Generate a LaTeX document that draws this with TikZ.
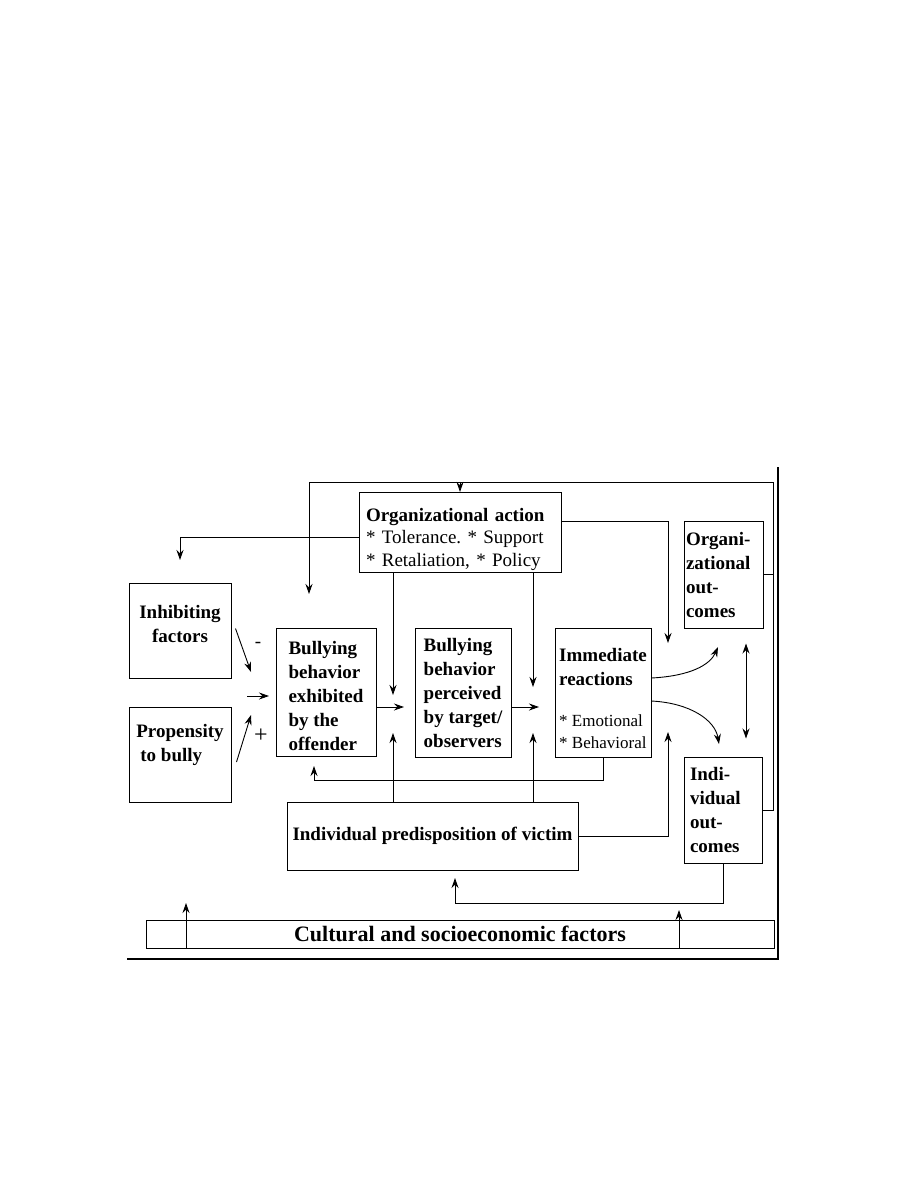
\documentclass[tikz,border=0pt]{standalone}
\usepackage{fontspec}
\setmainfont{Liberation Serif}
\usetikzlibrary{arrows.meta}
\frenchspacing

\begin{document}
\begin{tikzpicture}[x=1pt, y=-1pt, >={Stealth[length=10pt,width=7pt]},
    box/.style={draw, line width=1pt, inner sep=2pt, font=\fontsize{19}{24}\selectfont\bfseries},
    link/.style={line width=0.9pt}]
  \useasboundingbox (0,0) rectangle (918,1188);
  % boxes
  \node[box, minimum width=202pt, minimum height=79pt, text width=188pt, inner xsep=7pt, align=left, font=\fontsize{19}{22.5}\selectfont] (org) at (460,532.5) {\rule{0pt}{27pt}\textbf{Organizational action}\\{*} Tolerance. {*} Support\\{*} Retaliation, {*} Policy};
  \node[box, minimum width=79pt, minimum height=107pt, text width=75pt, align=left] (orgout) at (723.5,574.5) {Organi-\\zational\\out-\\comes};
  \node[box, minimum width=102pt, minimum height=95pt, align=center] (inhib) at (180,630.5) {Inhibiting\\factors\rule[-14pt]{0pt}{14pt}};
  \node[box, minimum width=102pt, minimum height=95pt, align=left] (prop) at (180,754.5) {Propensity\\\hspace*{4pt}to bully\rule[-24pt]{0pt}{24pt}};
  \node[box, minimum width=100pt, minimum height=128pt, align=left] (exhib) at (326,692) {\rule{0pt}{21pt}Bullying\\behavior\\exhibited\\by the\\offender};
  \node[box, minimum width=96pt, minimum height=129pt, align=left] (perc) at (463,692.5) {Bullying\\behavior\\perceived\\by target/\\observers};
  \node[box, minimum width=96pt, minimum height=129pt, align=left, inner xsep=1pt] (immed) at (603,692.5) {\rule{0pt}{26pt}Immediate\\reactions\\[17pt]{\mdseries\fontsize{17}{22}\selectfont * Emotional}\\[-2pt]{\mdseries\fontsize{17}{22}\selectfont * Behavioral}};
  \node[box, minimum width=291pt, minimum height=68pt] (pred) at (432.5,836) {Individual predisposition of victim};
  \node[box, minimum width=78pt, minimum height=106pt, text width=66pt, inner xsep=6pt, align=left] (indout) at (723,810) {Indi-\\vidual\\out-\\comes};
  \node[box, minimum width=628pt, minimum height=28pt, font=\fontsize{22}{26}\selectfont\bfseries] (cult) at (460,934) {Cultural and socioeconomic factors};
  % signs
  \node[font=\fontsize{19}{24}\selectfont] (minus) at (258,645) {-};
  \node[font=\fontsize{24}{28}\selectfont] (plus) at (261,736) {+};
  % free ends
  \coordinate (loop) at (773,482);
  \coordinate (exhibtop) at (309,594);
  \coordinate (inhibtop) at (180,560);
  \coordinate (immedtop) at (668,643);
  \coordinate (immedbot) at (668,732);
  \coordinate (j1) at (393,707);
  \coordinate (j2) at (533,707);
  \coordinate (fb) at (314,766);
  \coordinate (predbot) at (455,878);
  \coordinate (c1) at (186,903);
  \coordinate (c2) at (679,910);
  \coordinate (inhibtip) at (251,672);
  \coordinate (proptip) at (251,715);
  \coordinate (mid) at (247,696);
  \coordinate (orgin) at (718,647);
  \coordinate (indin) at (719,744);
  % frame
  \draw[line width=1.2pt] (127,959) -- (778,959) -- (778,467);
  % connectors
  \draw[link, ->] (indout.east) -| (loop) -| (exhibtop);
  \draw[link, ->] (loop -| org.north) -- (org.north);
  \draw[link] (orgout.east) -- (orgout.east -| loop);
  \draw[link, ->] ([yshift=-5pt]org.west) -| (inhibtop);
  \draw[link, ->] ([yshift=11pt]org.east) -| (immedtop);
  \draw[link, ->] (org.south -| j1) -- ([yshift=12pt]j1);
  \draw[link, ->] (pred.north -| j1) -- ([yshift=-26pt]j1);
  \draw[link, ->] (exhib.east |- j1) -- ([xshift=11pt]j1);
  \draw[link, ->] (org.south -| j2) -- ([yshift=20pt]j2);
  \draw[link, ->] (pred.north -| j2) -- ([yshift=-26pt]j2);
  \draw[link, ->] (perc.east |- j2) -- ([xshift=6pt]j2);
  \draw[link, ->] (immed.south) -- ++(0,23) -| (fb);
  \draw[link, ->] (pred.east) -| (immedbot);
  \draw[link, ->] (indout.south) -- ++(0,40) -| (predbot);
  \draw[link, ->] (cult.south -| c1) -- (c1);
  \draw[link, ->] (cult.south -| c2) -- (c2);
  \draw[link, ->] ([shift={(4pt,2pt)}]inhib.east) -- (inhibtip);
  \draw[link, ->] ([shift={(5pt,-7.5pt)}]prop.east) -- (proptip);
  \draw[link, ->] (mid) -- ++(22,0);
  \draw[link, ->] ([yshift=14.5pt]immed.east) .. controls (690,676) and (710,665) .. (orgin);
  \draw[link, ->] ([yshift=-8.5pt]immed.east) .. controls (690,703) and (715,720) .. (indin);
  \draw[link, <->] ([shift={(22.5pt,-15pt)}]orgout.south) -- ([shift={(23pt,18pt)}]indout.north);
\end{tikzpicture}
\end{document}
